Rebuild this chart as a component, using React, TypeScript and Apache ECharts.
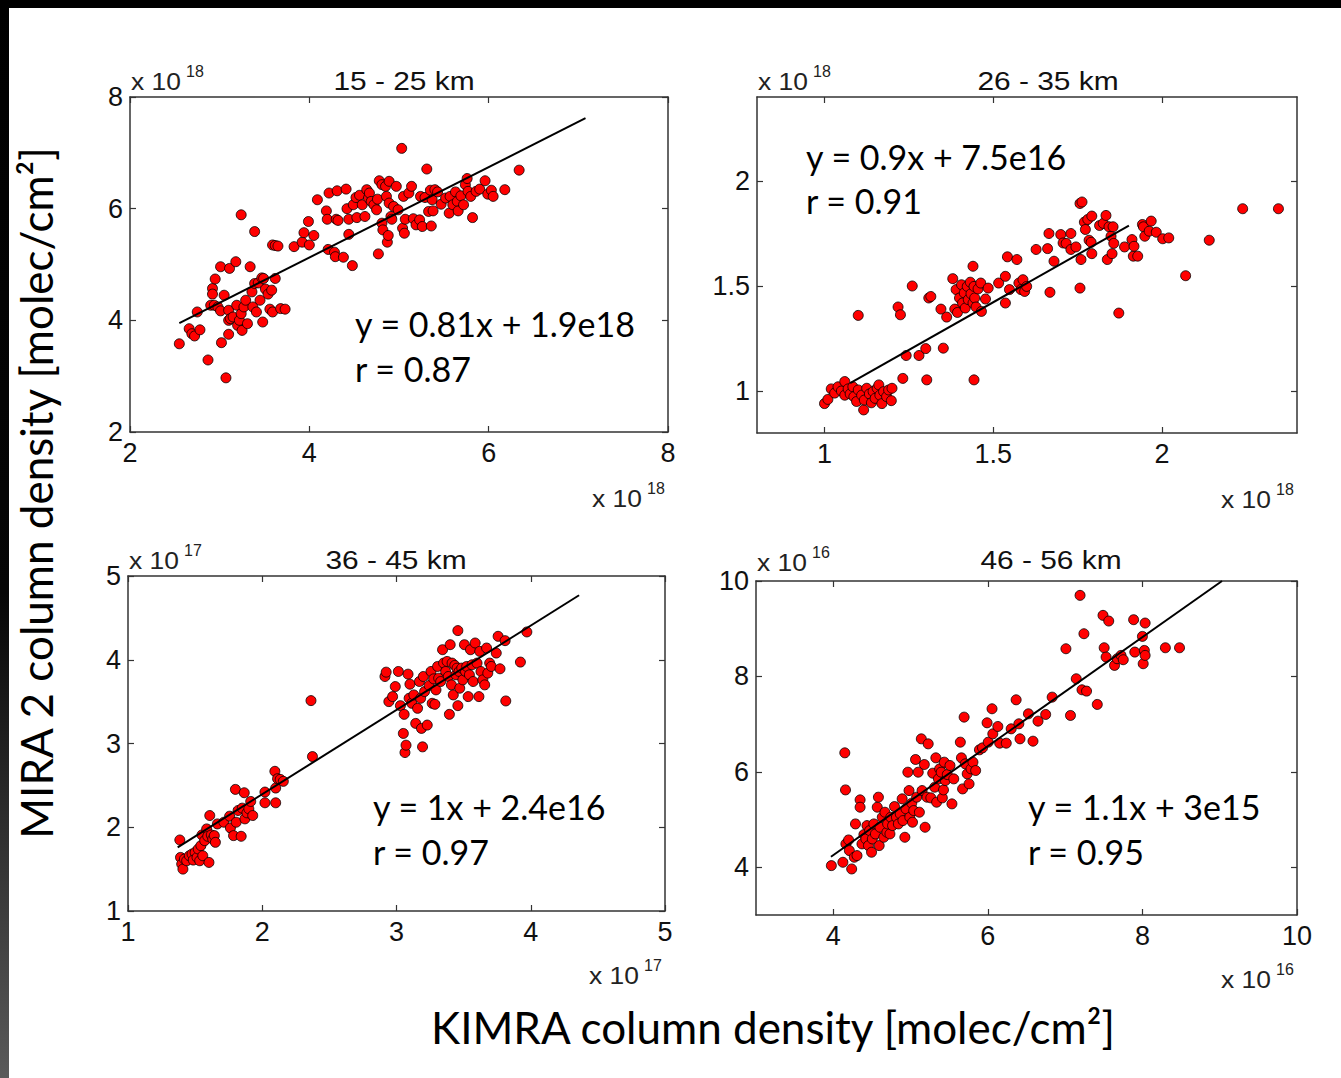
import React, { useEffect, useRef } from "react";
import * as echarts from "echarts";

const W = 1341;
const H = 1078;

const panelTitles = ["15 - 25 km", "26 - 35 km", "36 - 45 km", "46 - 56 km"];
const exponents = ["18", "18", "17", "16"];
const equations = ["y = 0.81x + 1.9e18", "y = 0.9x + 7.5e16", "y = 1x + 2.4e16", "y = 1.1x + 3e15"];
const correlations = ["r = 0.87", "r = 0.91", "r = 0.97", "r = 0.95"];

const xRanges = [[2, 8], [0.8, 2.4], [1, 5], [3, 10]];
const yRanges = [[2, 8], [0.8, 2.4], [1, 5], [3, 10]];
const xTickValues = [[2, 4, 6, 8], [1, 1.5, 2], [1, 2, 3, 4, 5], [4, 6, 8, 10]];
const yTickValues = [[2, 4, 6, 8], [1, 1.5, 2], [1, 2, 3, 4, 5], [4, 6, 8, 10]];

// 15 - 25 km (x 1e18)
const points15to25 = [
  [2.55, 3.58], [2.66, 3.85], [2.69, 3.76], [2.72, 3.72], [2.75, 4.15], [2.78, 3.83], [2.87, 3.29], [2.9, 4.27],
  [2.92, 4.57], [2.92, 4.47], [2.95, 4.74], [2.94, 4.27], [2.98, 4.24], [3.01, 4.96], [3.01, 4.17], [3.02, 3.6],
  [3.05, 4.45], [3.07, 2.97], [3.1, 4.0], [3.1, 4.18], [3.11, 4.93], [3.1, 3.75], [3.12, 4.03], [3.15, 4.06],
  [3.18, 5.05], [3.19, 4.27], [3.2, 3.91], [3.22, 4.0], [3.24, 5.89], [3.25, 3.82], [3.24, 4.12], [3.27, 4.24],
  [3.29, 4.36], [3.31, 3.94], [3.34, 4.96], [3.36, 4.51], [3.37, 4.24], [3.39, 4.66], [3.39, 5.59], [3.41, 4.15],
  [3.43, 4.67], [3.45, 4.36], [3.47, 4.76], [3.48, 3.97], [3.49, 4.75], [3.51, 4.56], [3.54, 4.47], [3.56, 4.2],
  [3.58, 4.54], [3.59, 5.35], [3.59, 4.15], [3.62, 4.75], [3.62, 5.34], [3.65, 5.33], [3.68, 4.21], [3.73, 4.2],
  [3.83, 5.32], [3.92, 5.4], [3.94, 5.57], [3.99, 5.77], [4.0, 5.35], [4.05, 5.52], [4.09, 6.16], [4.19, 5.96],
  [4.2, 5.81], [4.21, 5.27], [4.22, 6.28], [4.28, 5.22], [4.29, 5.14], [4.3, 5.81], [4.31, 6.32], [4.32, 5.79],
  [4.38, 5.13], [4.41, 6.35], [4.42, 6.0], [4.44, 5.81], [4.44, 5.54], [4.48, 4.98], [4.49, 6.07], [4.52, 6.2],
  [4.53, 5.84], [4.56, 6.24], [4.59, 6.07], [4.62, 5.86], [4.64, 6.34], [4.66, 6.19], [4.67, 6.28], [4.69, 6.13],
  [4.72, 6.07], [4.75, 5.98], [4.76, 6.17], [4.77, 5.19], [4.78, 6.5], [4.81, 5.74], [4.81, 6.43], [4.82, 5.62],
  [4.85, 6.4], [4.86, 6.22], [4.87, 5.4], [4.88, 5.52], [4.89, 6.49], [4.89, 6.1], [4.91, 5.86], [4.92, 5.81],
  [4.94, 6.04], [4.97, 6.4], [4.99, 5.98], [5.03, 7.08], [5.04, 5.65], [5.05, 6.22], [5.06, 5.56], [5.07, 5.81],
  [5.11, 6.28], [5.14, 6.4], [5.16, 5.82], [5.19, 5.71], [5.23, 5.8], [5.24, 6.22], [5.26, 5.68], [5.29, 6.2],
  [5.31, 6.71], [5.33, 5.95], [5.35, 6.33], [5.36, 5.69], [5.37, 6.16], [5.38, 5.96], [5.4, 6.34], [5.43, 6.3],
  [5.47, 6.08], [5.52, 6.19], [5.56, 5.92], [5.57, 6.22], [5.6, 6.07], [5.63, 6.3], [5.65, 6.13], [5.66, 5.96],
  [5.69, 6.23], [5.72, 6.07], [5.74, 6.43], [5.76, 6.54], [5.77, 6.31], [5.8, 6.22], [5.82, 5.84], [5.86, 6.31],
  [5.9, 6.35], [5.96, 6.5], [5.99, 6.26], [6.03, 6.33], [6.05, 6.22], [6.18, 6.34], [6.34, 6.69],
];

// 26 - 35 km (x 1e18)
const points26to35 = [
  [1.0, 0.94], [1.01, 0.96], [1.02, 1.01], [1.03, 0.99], [1.04, 1.02], [1.05, 1.0], [1.06, 1.045], [1.06, 0.98],
  [1.07, 1.01], [1.076, 0.986], [1.084, 1.02], [1.087, 0.973], [1.095, 0.95], [1.1, 1.36], [1.1, 1.005], [1.11, 0.98],
  [1.116, 0.91], [1.118, 0.957], [1.125, 1.013], [1.133, 0.986], [1.139, 0.944], [1.144, 0.997], [1.15, 0.965],
  [1.156, 1.013], [1.161, 1.029], [1.164, 0.98], [1.17, 0.94], [1.175, 0.997], [1.184, 0.973], [1.19, 1.005],
  [1.198, 0.954], [1.2, 1.013], [1.218, 1.4], [1.225, 1.363], [1.232, 1.06], [1.242, 1.169], [1.26, 1.5],
  [1.28, 1.169], [1.3, 1.202], [1.303, 1.053], [1.309, 1.443], [1.315, 1.45], [1.345, 1.39], [1.352, 1.204],
  [1.362, 1.352], [1.38, 1.535], [1.386, 1.39], [1.39, 1.483], [1.394, 1.374], [1.4, 1.443], [1.406, 1.506],
  [1.409, 1.419], [1.414, 1.467], [1.417, 1.395], [1.423, 1.498], [1.426, 1.435], [1.432, 1.518], [1.434, 1.463],
  [1.44, 1.594], [1.44, 1.419], [1.443, 1.498], [1.443, 1.053], [1.445, 1.443], [1.449, 1.4], [1.455, 1.486],
  [1.463, 1.514], [1.465, 1.379], [1.477, 1.438], [1.485, 1.49], [1.516, 1.514], [1.536, 1.419], [1.536, 1.546],
  [1.542, 1.639], [1.548, 1.483], [1.57, 1.626], [1.576, 1.514], [1.582, 1.483], [1.588, 1.53], [1.593, 1.474],
  [1.599, 1.498], [1.627, 1.674], [1.661, 1.678], [1.665, 1.75], [1.668, 1.47], [1.68, 1.618], [1.7, 1.745],
  [1.707, 1.705], [1.716, 1.703], [1.73, 1.674], [1.73, 1.75], [1.745, 1.686], [1.757, 1.49], [1.76, 1.626],
  [1.757, 1.893], [1.763, 1.9], [1.77, 1.804], [1.773, 1.769], [1.78, 1.817], [1.784, 1.718], [1.79, 1.708],
  [1.792, 1.833], [1.792, 1.654], [1.815, 1.788], [1.826, 1.798], [1.834, 1.836], [1.838, 1.626], [1.843, 1.782],
  [1.849, 1.737], [1.852, 1.654], [1.855, 1.782], [1.857, 1.703], [1.872, 1.371], [1.889, 1.686], [1.911, 1.721],
  [1.915, 1.642], [1.917, 1.689], [1.928, 1.642], [1.942, 1.793], [1.945, 1.782], [1.949, 1.737], [1.962, 1.761],
  [1.968, 1.809], [1.983, 1.756], [2.002, 1.725], [2.02, 1.729], [2.07, 1.549], [2.14, 1.718], [2.239, 1.868],
  [2.345, 1.868],
];

// 36 - 45 km (x 1e17)
const points36to45 = [
  [1.386, 1.848], [1.391, 1.64], [1.4, 1.56], [1.409, 1.5], [1.42, 1.62], [1.437, 1.6], [1.457, 1.66], [1.477, 1.68],
  [1.486, 1.608], [1.5, 1.7], [1.514, 1.64], [1.523, 1.74], [1.534, 1.6], [1.543, 1.78], [1.551, 1.908], [1.557, 1.66],
  [1.571, 1.84], [1.586, 1.98], [1.594, 1.892], [1.603, 1.58], [1.609, 2.14], [1.62, 1.908], [1.631, 1.86], [1.643, 1.9],
  [1.651, 1.82], [1.666, 2.04], [1.714, 2.06], [1.757, 2.132], [1.763, 1.992], [1.786, 1.9], [1.8, 2.452], [1.806, 2.06],
  [1.82, 2.2], [1.843, 1.892], [1.851, 2.228], [1.866, 2.412], [1.871, 2.1], [1.886, 2.172], [1.9, 2.22], [1.914, 2.308],
  [1.929, 2.14], [2.02, 2.42], [2.02, 2.292], [2.094, 2.668], [2.1, 2.292], [2.1, 2.468], [2.114, 2.58], [2.134, 2.572],
  [2.157, 2.548], [2.363, 3.512], [2.374, 2.844],
  [2.914, 3.8], [2.923, 3.852], [2.943, 3.5], [2.971, 3.56], [2.991, 3.68], [3.014, 3.86], [3.029, 3.452], [3.051, 3.12],
  [3.057, 3.348], [3.063, 2.892], [3.071, 2.98], [3.086, 3.828], [3.094, 3.54], [3.1, 3.708], [3.114, 3.48], [3.129, 3.58],
  [3.143, 3.24], [3.157, 3.42], [3.171, 3.74], [3.18, 3.54], [3.186, 3.18], [3.194, 2.96], [3.2, 3.8], [3.209, 3.62],
  [3.229, 3.22], [3.243, 3.692], [3.257, 3.86], [3.266, 3.48], [3.277, 3.772], [3.286, 3.468], [3.294, 3.64], [3.306, 3.92],
  [3.314, 3.78], [3.329, 3.74], [3.343, 4.12], [3.351, 3.96], [3.366, 3.86], [3.377, 3.98], [3.386, 3.8], [3.394, 3.348],
  [3.4, 4.18], [3.409, 3.7], [3.414, 3.96], [3.423, 3.58], [3.434, 3.932], [3.443, 3.82], [3.451, 3.9], [3.457, 4.348],
  [3.457, 3.452], [3.466, 3.86], [3.471, 3.66], [3.486, 3.9], [3.494, 3.76], [3.506, 4.18], [3.514, 3.86], [3.523, 3.92],
  [3.534, 3.56], [3.543, 3.82], [3.551, 4.12], [3.563, 3.94], [3.571, 3.74], [3.586, 4.2], [3.6, 3.96], [3.614, 3.56],
  [3.62, 4.1], [3.629, 3.86], [3.643, 3.76], [3.657, 3.7], [3.671, 4.14], [3.68, 3.84], [3.694, 3.96], [3.706, 3.92],
  [3.757, 4.28], [3.743, 4.08], [3.771, 3.892], [3.809, 4.228], [3.814, 3.508], [3.923, 3.972], [3.971, 4.332],
];

// 46 - 56 km (x 1e16)
const points46to56 = [
  [3.975, 4.035], [4.124, 4.105], [4.149, 6.399], [4.158, 5.622], [4.163, 4.49], [4.198, 4.573], [4.208, 4.35],
  [4.238, 3.965], [4.272, 4.21], [4.287, 4.909], [4.307, 4.245], [4.347, 5.413], [4.347, 5.259], [4.371, 4.49],
  [4.396, 4.685], [4.421, 4.594], [4.436, 4.874], [4.455, 4.455], [4.47, 4.769], [4.495, 4.315], [4.505, 4.594],
  [4.525, 4.909], [4.545, 4.699], [4.569, 5.259], [4.584, 5.469], [4.594, 4.455], [4.604, 4.839], [4.634, 5.049],
  [4.653, 4.629], [4.668, 5.154], [4.693, 4.734], [4.703, 4.909], [4.733, 4.699], [4.743, 5.049], [4.767, 4.874],
  [4.792, 5.273], [4.817, 5.049], [4.842, 4.909], [4.866, 5.119], [4.891, 5.434], [4.901, 4.979], [4.926, 4.629],
  [4.941, 5.224], [4.965, 5.993], [4.98, 5.608], [4.99, 5.049], [5.015, 5.343], [5.025, 4.944], [5.04, 5.189],
  [5.064, 6.259], [5.079, 5.469], [5.099, 5.993], [5.114, 5.154], [5.139, 6.692], [5.149, 5.608], [5.178, 6.154],
  [5.188, 4.839], [5.213, 5.469], [5.228, 6.587], [5.262, 5.455], [5.287, 5.972], [5.312, 5.678], [5.327, 6.294],
  [5.337, 5.364], [5.361, 5.853], [5.376, 6.063], [5.396, 5.993], [5.411, 5.455], [5.426, 5.622], [5.436, 6.203],
  [5.45, 5.818], [5.475, 5.944], [5.51, 6.133], [5.535, 5.329], [5.559, 5.853], [5.644, 6.622], [5.658, 6.294],
  [5.673, 5.643], [5.693, 7.147], [5.708, 6.168], [5.733, 5.958], [5.757, 5.748], [5.782, 6.063], [5.807, 6.203],
  [5.842, 6.028], [5.891, 6.462], [5.931, 6.503], [5.99, 7.028], [6.005, 6.622], [6.054, 7.322], [6.064, 6.797],
  [6.129, 6.951], [6.153, 6.601], [6.238, 6.601], [6.302, 6.902], [6.366, 7.51], [6.401, 7.007], [6.416, 6.692],
  [6.525, 7.217], [6.584, 6.643], [6.649, 7.063], [6.748, 7.203], [6.832, 7.566], [7.01, 8.58], [7.069, 7.182],
  [7.144, 7.951], [7.193, 9.699], [7.218, 7.72], [7.243, 8.895], [7.277, 7.692], [7.416, 7.413], [7.49, 9.28],
  [7.505, 8.601], [7.53, 8.406], [7.564, 9.161], [7.639, 8.231], [7.673, 8.371], [7.723, 8.441], [7.752, 8.35],
  [7.886, 9.189], [7.901, 8.51], [8.0, 8.839], [8.01, 8.266], [8.025, 8.545], [8.035, 9.119], [8.035, 8.441],
  [8.297, 8.601], [8.48, 8.601],
];

const fitLine15to25 = [[2.55, 3.95], [7.08, 7.62]];
const fitLine26to35 = [[1.076, 1.037], [1.902, 1.788]];
const fitLine36to45 = [[1.37, 1.76], [4.36, 4.77]];
const fitLine46to56 = [[3.97, 4.22], [9.03, 10.0]];

const panelPoints = [points15to25, points26to35, points36to45, points46to56];
const panelFits = [fitLine15to25, fitLine26to35, fitLine36to45, fitLine46to56];

// layout (pixels)
const grids = [
  { left: 130, top: 97, width: 538, height: 335 },
  { left: 757, top: 97, width: 540, height: 336 },
  { left: 128, top: 576, width: 537, height: 335 },
  { left: 756, top: 581, width: 541, height: 334 },
];
const titleCenters = [404, 1048, 396, 1051];
const titleBaselines = [94, 94, 573, 573];
const expTopBaselines = [93, 93, 572, 574];
const eqPos = [
  [355, 323, 368],
  [806, 156, 200],
  [373, 806, 851],
  [1028, 806, 851],
];

const TICK_FONT = "Liberation Sans";
const EQ_FONT = "Lato";
const AXIS_COLOR = "#333";

function buildOption() {
  const xAxis: any[] = [];
  const yAxis: any[] = [];
  const series: any[] = [];
  const graphic: any[] = [];

  grids.forEach((g, i) => {
    const common = (range: number[], ticks: number[], showLabels: boolean, pos: string, gi: number) => ({
      type: "value",
      gridIndex: gi,
      position: pos,
      min: range[0],
      max: range[1],
      axisLine: { show: true, onZero: false, lineStyle: { color: AXIS_COLOR, width: 1.5 } },
      axisTick: { show: true, inside: true, length: 6, customValues: ticks, lineStyle: { color: AXIS_COLOR, width: 1.2 } },
      axisLabel: {
        show: showLabels,
        customValues: ticks,
        showMinLabel: true,
        showMaxLabel: true,
        fontFamily: TICK_FONT,
        fontSize: 27,
        color: "#111",
        margin: 7,
        formatter: (v: number) => String(v),
      },
      splitLine: { show: false },
    });
    xAxis.push(common(xRanges[i], xTickValues[i], true, "bottom", i));
    xAxis.push(common(xRanges[i], xTickValues[i], false, "top", i));
    yAxis.push(common(yRanges[i], yTickValues[i], true, "left", i));
    yAxis.push(common(yRanges[i], yTickValues[i], false, "right", i));

    series.push({
      type: "scatter",
      xAxisIndex: 2 * i,
      yAxisIndex: 2 * i,
      data: panelPoints[i],
      symbol: "circle",
      symbolSize: 10,
      itemStyle: { color: "#ff0000", borderColor: "#000", borderWidth: 0.8, opacity: 1 },
      z: 2,
    });
    series.push({
      type: "line",
      xAxisIndex: 2 * i,
      yAxisIndex: 2 * i,
      data: panelFits[i],
      symbol: "none",
      lineStyle: { color: "#000", width: 2 },
      z: 3,
    });

    // panel title
    graphic.push({
      type: "text",
      x: titleCenters[i],
      y: titleBaselines[i],
      scaleX: 1.15,
      style: {
        text: panelTitles[i],
        x: 0,
        y: 0,
        fill: "#111",
        font: `26px "${TICK_FONT}"`,
        textAlign: "center",
        align: "center",
        textVerticalAlign: "bottom",
        verticalAlign: "bottom",
      },
    });
    // exponent label "x 10^n"
    const expLabel = (x: number, y: number) => [
      {
        type: "text",
        x,
        y,
        scaleX: 1.1,
        style: { text: "x 10", x: 0, y: 0, fill: "#222", font: `24px "${TICK_FONT}"`, textAlign: "left", align: "left", textVerticalAlign: "bottom", verticalAlign: "bottom" },
      },
      {
        type: "text",
        x: x + 55,
        y: y - 14,
        style: { text: exponents[i], x: 0, y: 0, fill: "#222", font: `16px "${TICK_FONT}"`, textAlign: "left", align: "left", textVerticalAlign: "bottom", verticalAlign: "bottom" },
      },
    ];
    graphic.push(...expLabel(g.left + 1, expTopBaselines[i]));
    const xr = g.left + g.width;
    graphic.push(...expLabel(xr - 76, g.top + g.height + (i < 2 ? 78 : 76)));

    // equation and correlation
    const [ex, ey1, ey2] = eqPos[i];
    graphic.push({
      type: "text",
      x: ex,
      y: ey1,
      style: { text: equations[i], x: 0, y: 0, fill: "#000", font: `34px "${EQ_FONT}"`, textAlign: "left", align: "left", textVerticalAlign: "middle", verticalAlign: "middle" },
    });
    graphic.push({
      type: "text",
      x: ex,
      y: ey2,
      style: { text: correlations[i], x: 0, y: 0, fill: "#000", font: `34px "${EQ_FONT}"`, textAlign: "left", align: "left", textVerticalAlign: "middle", verticalAlign: "middle" },
    });
  });

  // frame decorations (black top bar, dark left strip)
  graphic.push({ type: "rect", shape: { x: 0, y: 0, width: W, height: 8 }, style: { fill: "#000" }, z: 10 });
  graphic.push({
    type: "rect",
    shape: { x: 0, y: 0, width: 9, height: H },
    style: {
      fill: {
        type: "linear", x: 0, y: 0, x2: 0, y2: 1,
        colorStops: [
          { offset: 0, color: "#000" },
          { offset: 0.55, color: "#060606" },
          { offset: 1, color: "#5a5a5a" },
        ],
      },
    },
    z: 10,
  });

  // big axis titles
  graphic.push({
    type: "text",
    x: 36,
    y: 493,
    rotation: Math.PI / 2,
    style: { text: "MIRA 2 column density [molec/cm²]", x: 0, y: 0, fill: "#000", font: `44px "${EQ_FONT}"`, textAlign: "center", align: "center", textVerticalAlign: "middle", verticalAlign: "middle" },
  });
  graphic.push({
    type: "text",
    x: 773,
    y: 1027,
    style: { text: "KIMRA column density [molec/cm²]", x: 0, y: 0, fill: "#000", font: `44px "${EQ_FONT}"`, textAlign: "center", align: "center", textVerticalAlign: "middle", verticalAlign: "middle" },
  });

  return {
    animation: false,
    backgroundColor: "#fff",
    grid: grids.map((g) => ({ ...g, containLabel: false })),
    xAxis,
    yAxis,
    series,
    graphic,
  };
}

export default function App() {
  const ref = useRef<HTMLDivElement>(null);
  useEffect(() => {
    if (!ref.current) return;
    const chart = echarts.init(ref.current, undefined, { renderer: "svg" });
    chart.setOption(buildOption() as any);
    return () => chart.dispose();
  }, []);
  return (
    <div
      ref={ref}
      style={{ position: "fixed", left: 0, top: 0, width: W, height: H, background: "#fff" }}
    />
  );
}
